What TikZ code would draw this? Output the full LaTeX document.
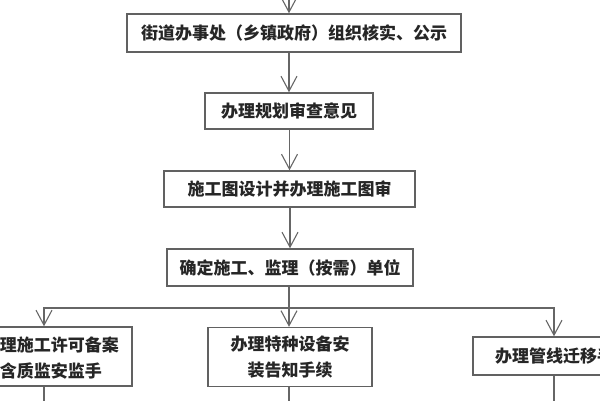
\documentclass[tikz,border=0pt]{standalone}
\usepackage{fontspec}
\setmainfont{Noto Sans CJK SC}
\usetikzlibrary{arrows.meta}
\newcommand\bxfont{\fontsize{17pt}{26pt}\selectfont\bfseries}
\begin{document}
\begin{tikzpicture}[x=1pt,y=-1pt,
  box/.style={draw=black!62, line width=1.4pt, inner sep=0pt, font=\bxfont, text=black!85, align=center},
  txt/.style={inner sep=0pt, font=\bxfont, text=black!85, align=center},
  conn/.style={draw=black!60, line width=1.1pt},
  arr/.style={conn, -{Straight Barb[length=15pt,width=16pt]}}]
\useasboundingbox (0,0) rectangle (600,400);
\clip (0,0) rectangle (600,400);
\fill[white] (0,0) rectangle (600,400);
% boxes
\node[box, minimum width=334pt, minimum height=38pt] (b1) at (294,33) {街道办事处（乡镇政府）组织核实、公示};
\node[box, minimum width=168pt, minimum height=36pt] (b2) at (289,111) {办理规划审查意见};
\node[box, minimum width=251pt, minimum height=36pt] (b3) at (289.5,189) {施工图设计并办理施工图审};
\node[box, minimum width=246pt, minimum height=37pt] (b4) at (290,267.5) {确定施工、监理（按需）单位};
\node[box, minimum width=176pt, minimum height=59pt] (b5) at (44,356.5) {};
\node[txt] (t5) at (51,358.5) {办理施工许可备案\\含质监安监手};
\node[box, minimum width=164pt, minimum height=59pt] (b6) at (290,357) {办理特种设备安\\装告知手续};
\node[box, minimum width=162pt, minimum height=38pt] (b7) at (554,356) {};
\node[txt] (t7) at (563,356) {办理管线迁移手续};
% connectors
\coordinate (s0) at (289,-20);
\draw[arr] (s0) -- (s0 |- b1.north);
\draw[arr] (b2.north |- b1.south) -- (b2.north);
\draw[arr] (b3.north |- b2.south) -- (b3.north);
\draw[arr] (b3.south -| b4.north) -- (b4.north);
\coordinate (j) at (289,308);
\draw[conn] (j |- b4.south) -- (j);
\draw[arr] (j) -| (b5.north);
\draw[arr] (j) -| (b7.north);
\draw[arr] (j) -- (j |- b6.north);
\coordinate (e5) at (44,420);
\coordinate (e6) at (289,420);
\coordinate (e7) at (554,420);
\draw[conn] (b5.south) -- (e5);
\draw[conn] (e6 |- b6.south) -- (e6);
\draw[conn] (b7.south) -- (e7);
\end{tikzpicture}
\end{document}
